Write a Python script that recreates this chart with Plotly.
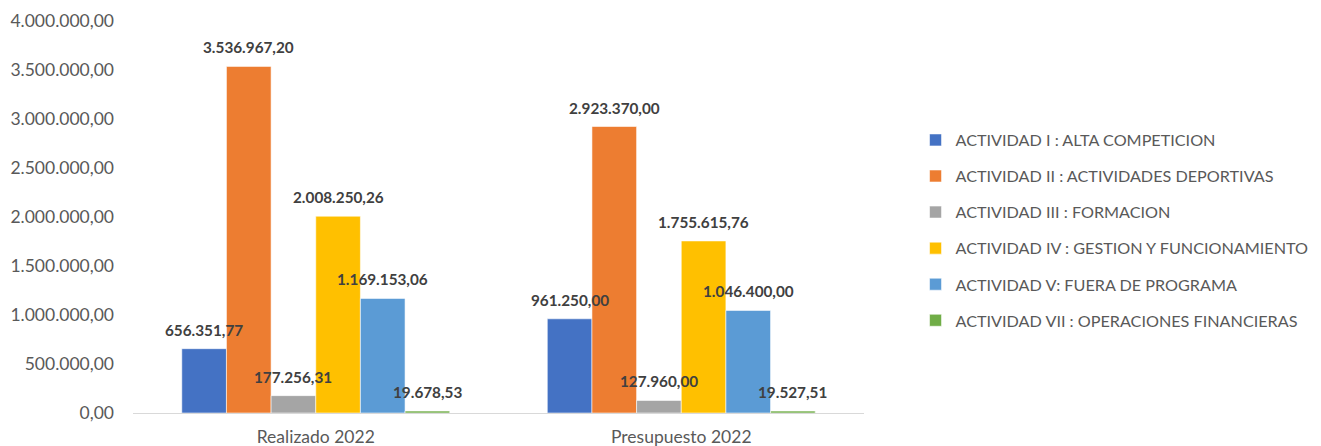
import plotly.graph_objects as go

categories = ["Realizado 2022", "Presupuesto 2022"]
series_names = [
    "ACTIVIDAD I : ALTA COMPETICION",
    "ACTIVIDAD II : ACTIVIDADES DEPORTIVAS",
    "ACTIVIDAD III : FORMACION",
    "ACTIVIDAD IV : GESTION Y FUNCIONAMIENTO",
    "ACTIVIDAD V: FUERA DE PROGRAMA",
    "ACTIVIDAD VII : OPERACIONES FINANCIERAS",
]
realizado = [656351.77, 3536967.20, 177256.31, 2008250.26, 1169153.06, 19678.53]
presupuesto = [961250.00, 2923370.00, 127960.00, 1755615.76, 1046400.00, 19527.51]
colors = ["#4472C4", "#ED7D31", "#A5A5A5", "#FFC000", "#5B9BD5", "#70AD47"]
y_ticks = [0, 500000, 1000000, 1500000, 2000000, 2500000, 3000000, 3500000, 4000000]

FONT = "Lato"
BARGAP = 0.267


def es_fmt(v):
    s = f"{v:,.2f}"
    return s.replace(",", "X").replace(".", ",").replace("X", ".")


fig = go.Figure()
n = len(series_names)
for j, name in enumerate(series_names):
    vals = [realizado[j], presupuesto[j]]
    fig.add_trace(go.Bar(
        name=name,
        x=categories,
        y=vals,
        marker=dict(color=colors[j], line=dict(color="rgba(255,255,255,0.8)", width=0.7)),
        legendgroup=f"g{j}",
        hoverinfo="skip",
    ))

# data labels above bars, placed via category axis units
w = (1 - BARGAP) / n
for j in range(n):
    vals = [realizado[j], presupuesto[j]]
    for i, v in enumerate(vals):
        fig.add_annotation(
            x=i + (j - (n - 1) / 2) * w,
            y=v,
            xref="x", yref="y",
            text=f"<b>{es_fmt(v)}</b>",
            showarrow=False,
            yshift=19,
            yanchor="middle",
            font=dict(family=FONT, size=15.3, color="#404040"),
        )

fig.update_layout(
    width=1313, height=438,
    margin=dict(l=125, r=457, t=13, b=33, autoexpand=False),
    paper_bgcolor="white",
    plot_bgcolor="white",
    barmode="group",
    bargap=BARGAP,
    bargroupgap=0,
    separators=",.",
    font=dict(family=FONT, size=15, color="#595959"),
    showlegend=True,
    legend=dict(
        x=1.0705, y=0.74, xanchor="left", yanchor="top",
        traceorder="grouped",
        tracegroupgap=12,
        font=dict(family=FONT, size=16.2, color="#595959"),
        itemwidth=30,
        bgcolor="rgba(0,0,0,0)",
    ),
    xaxis=dict(
        type="category",
        automargin=False,
        showline=True, linecolor="#d9d9d9", linewidth=1,
        showgrid=False,
        ticks="",
        tickfont=dict(family=FONT, size=17.5, color="#595959"),
        ticklabelstandoff=8,
    ),
    yaxis=dict(
        range=[0, 4000000],
        automargin=False,
        tickvals=y_ticks,
        tickformat=",.2f",
        showgrid=False,
        zeroline=False,
        showline=False,
        ticks="",
        ticklabelstandoff=18,
        tickfont=dict(family=FONT, size=17.5, color="#595959"),
    ),
)

fig.write_html("out.html")
